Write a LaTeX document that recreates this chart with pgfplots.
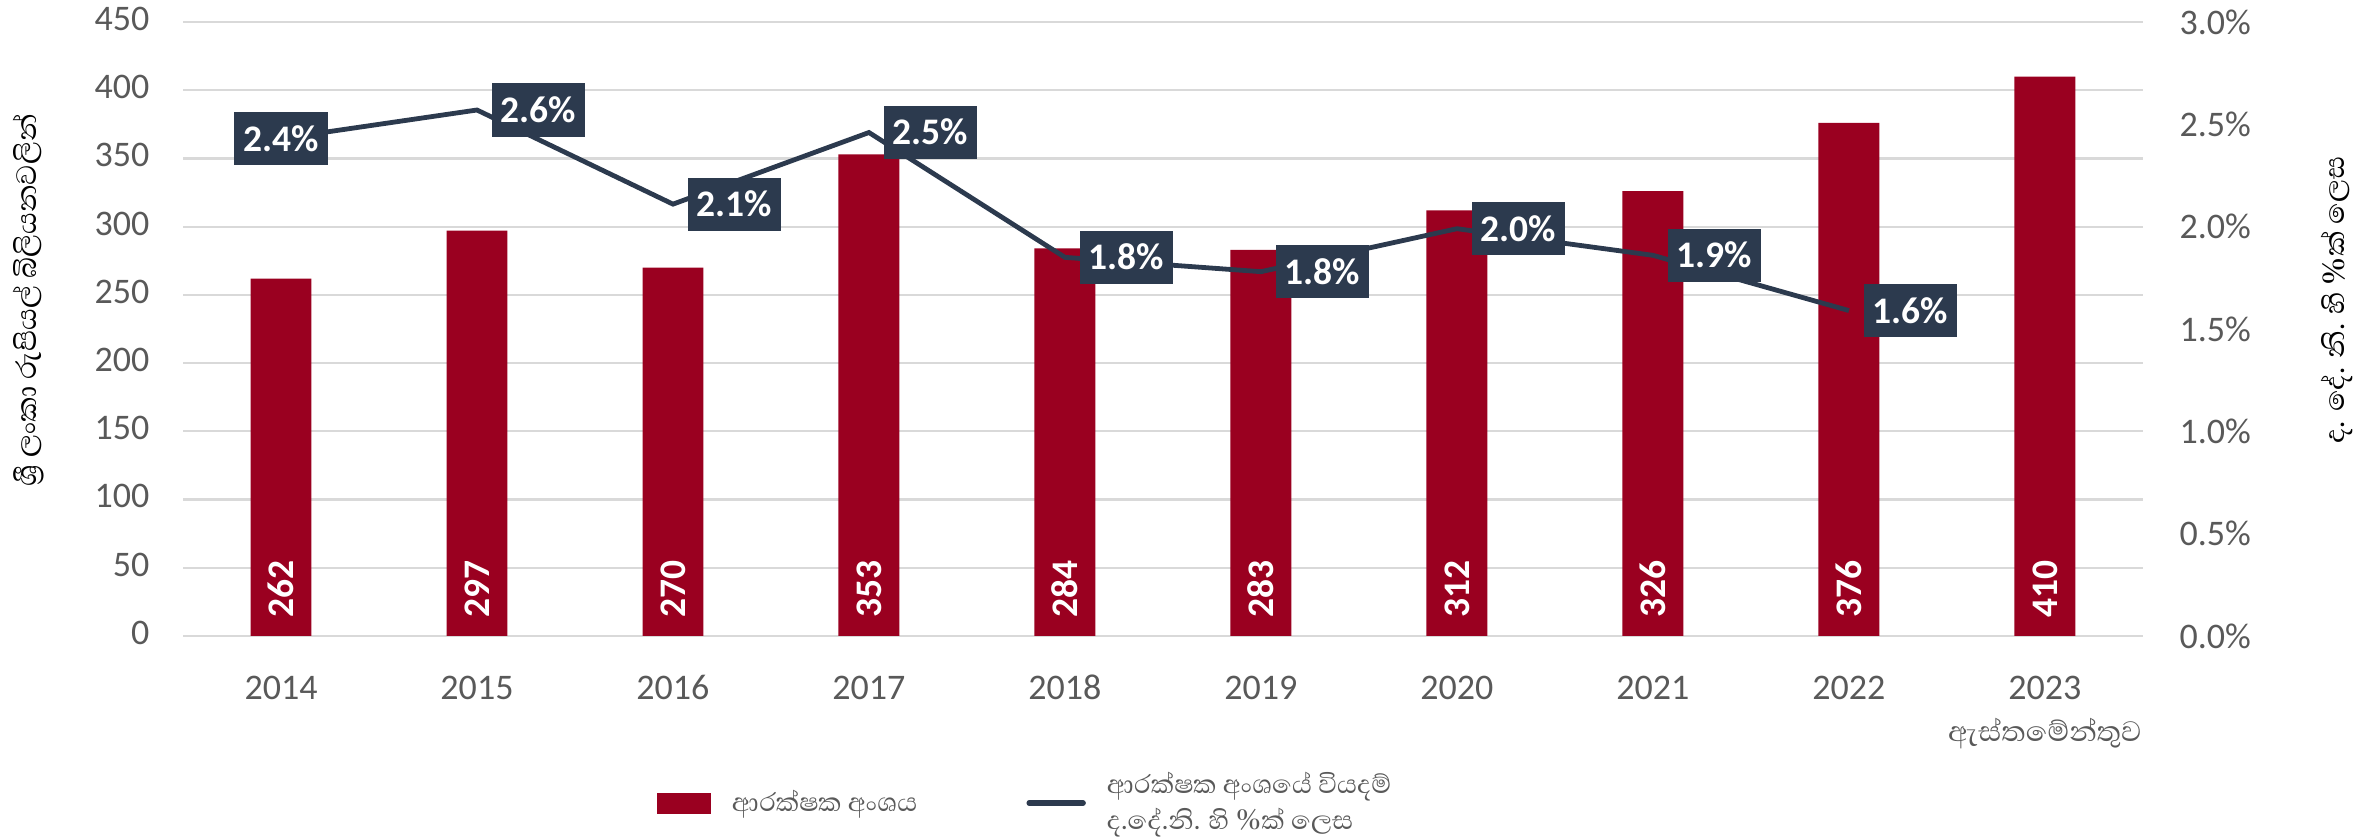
\documentclass[border=0pt]{standalone}
\usepackage{fontspec}
\setmainfont{Carlito}
\newfontfamily\sinhala[Script=Sinhala]{Abhaya Libre}
\usepackage{pgfplots}
\pgfplotsset{compat=1.18}
\definecolor{barred}{HTML}{9A0020}
\definecolor{navy}{HTML}{2C3A4E}
\definecolor{tickgray}{HTML}{595959}
\definecolor{gridgray}{HTML}{D9D9D9}
\tikzset{labelbox/.style={fill=navy, text=white, font=\bfseries\fontsize{12.5bp}{14bp}\selectfont,
  inner xsep=3bp, inner ysep=0pt, text height=8.3bp, text depth=0pt, minimum height=17.7bp}}
\begin{document}
\begin{tikzpicture}
\path[use as bounding box] (0,0) rectangle (793bp,279bp);
\begin{axis}[
  at={(61bp,67bp)}, anchor=south west,
  scale only axis, width=653.3bp, height=204.67bp,
  xmin=-0.5, xmax=9.5, ymin=0, ymax=450,
  ytick={0,50,...,450},
  xtick={0,...,9},
  xticklabels={2014,2015,2016,2017,2018,2019,2020,2021,2022,{2023\\{\sinhala ඇස්තමේන්තුව}}},
  typeset ticklabels with strut,
  axis line style={draw=none},
  major tick length=0pt,
  ymajorgrids, grid style={gridgray, line width=0.75bp},
  tick label style={font=\fontsize{12bp}{14bp}\selectfont, text=tickgray},
  /pgf/number format/assume math mode=true,
  yticklabel style={inner sep=0pt, xshift=-11bp},
  xticklabel style={inner sep=0pt, yshift=-11.2bp, align=center},
  ylabel={\sinhala ශ්‍රී ලංකා රුපියල් බිලියනවලින්},
  ylabel style={at={(axis description cs:-0.0786,0.547)}, anchor=center, font=\fontsize{12bp}{14bp}\selectfont},
]
\addplot[ybar, bar width=0.311, fill=barred, draw=none] coordinates {
  (0,262) (1,297) (2,270) (3,353) (4,284) (5,283) (6,312) (7,326) (8,376) (9,410)};
\addplot[draw=none, mark=none, nodes near coords, point meta=explicit symbolic,
  nodes near coords style={rotate=90, anchor=west, inner xsep=6bp, inner ysep=0pt, text=white,
  font=\bfseries\fontsize{12.5bp}{14bp}\selectfont}] coordinates {
  (0,0)[262] (1,0)[297] (2,0)[270] (3,0)[353] (4,0)[284] (5,0)[283] (6,0)[312] (7,0)[326] (8,0)[376] (9,0)[410]};
\end{axis}
\begin{axis}[
  at={(61bp,67bp)}, anchor=south west,
  scale only axis, width=653.3bp, height=204.67bp,
  xmin=-0.5, xmax=9.5, ymin=0, ymax=3,
  axis x line=none, axis y line*=right, axis line style={draw=none},
  ytick={0,0.5,...,3}, major tick length=0pt,
  /pgf/number format/assume math mode=true,
  yticklabel={\pgfmathprintnumber[fixed,fixed zerofill,precision=1]{\tick}\%},
  tick label style={font=\fontsize{12bp}{14bp}\selectfont, text=tickgray},
  yticklabel style={inner sep=0pt, xshift=12bp},
  ylabel={\sinhala ද. දේ. නි. හි \%ක් ලෙස},
  ylabel style={at={(axis description cs:1.099,0.547)}, anchor=center, font=\fontsize{12bp}{14bp}\selectfont},
  legend columns=2,
  legend style={at={(axis description cs:0.2414,-0.272)}, anchor=west, draw=none, fill=none, inner sep=0pt,
    font=\sinhala\fontsize{11bp}{12bp}\selectfont, text=tickgray,
    cells={anchor=west, align=left, inner sep=0pt},
    /tikz/every odd column/.append style={column sep=5bp},
    /tikz/every even column/.append style={column sep=34.4bp}},
]
\addlegendimage{legend image code/.code={\fill[barred] (0bp,-3.3bp) rectangle (17.7bp,3.3bp);}}
\addlegendentry{ආරක්ෂක අංශය}
\addplot[navy, line width=1.6bp, mark=none,
  legend image code/.code={\draw[navy, line width=1.8bp, line cap=round] (0bp,0bp) -- (18bp,0bp);}] coordinates {
  (0,2.43) (1,2.57) (2,2.11) (3,2.46) (4,1.85) (5,1.78) (6,1.99) (7,1.86) (8,1.59)};
\addlegendentry{ආරක්ෂක අංශයේ වියදම්\\ද.දේ.නි. හි \%ක් ලෙස}
\addplot[forget plot, draw=none, mark=none, nodes near coords, point meta=explicit symbolic,
  nodes near coords style={labelbox, anchor=center}] coordinates {(0,2.43)[2.4\%]};
\addplot[forget plot, draw=none, mark=none, nodes near coords, point meta=explicit symbolic,
  nodes near coords style={labelbox, anchor=west, xshift=4.7bp}] coordinates {
  (1,2.57)[2.6\%] (2,2.11)[2.1\%] (3,2.46)[2.5\%] (4,1.85)[1.8\%] (5,1.78)[1.8\%]
  (6,1.99)[2.0\%] (7,1.86)[1.9\%] (8,1.59)[1.6\%]};
\end{axis}
\end{tikzpicture}
\end{document}
